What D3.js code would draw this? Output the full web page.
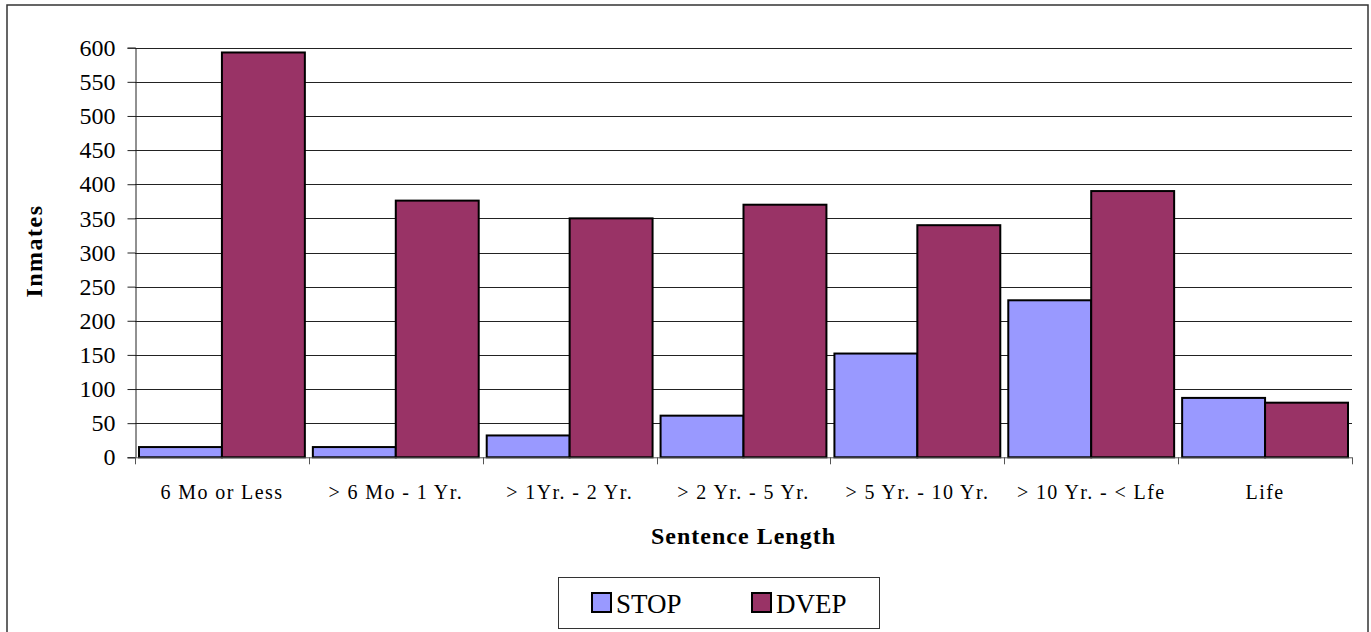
<!DOCTYPE html>
<html>
<head>
<meta charset="utf-8">
<script src="https://cdn.jsdelivr.net/npm/d3@7"></script>
<style>
  html, body { margin: 0; padding: 0; background: #fff; }
  svg { display: block; }
</style>
</head>
<body>
<svg id="chart" width="1371" height="632"></svg>
<script>
// Sentence length categories and inmate counts per programme
const categories = ["6 Mo or Less", "> 6 Mo - 1 Yr.", "> 1Yr. - 2 Yr.", "> 2 Yr. - 5 Yr.", "> 5 Yr. - 10 Yr.", "> 10 Yr. - < Lfe", "Life"];
const seriesNames = ["STOP", "DVEP"];
const stopValues = [15, 15, 32, 61, 152, 230, 87];
const dvepValues = [593, 376, 350, 370, 340, 390, 80];
const yTicks = [0, 50, 100, 150, 200, 250, 300, 350, 400, 450, 500, 550, 600];
const colors = { STOP: "#9999FF", DVEP: "#993366" };

const FONT = "'Liberation Serif', 'Times New Roman', Times, serif";

const rows = categories.map((c, i) => ({ category: c, STOP: stopValues[i], DVEP: dvepValues[i] }));

const svg = d3.select("#chart");

// Outer chart frame
svg.append("rect")
  .attr("x", 7).attr("y", 5)
  .attr("width", 1361).attr("height", 640)
  .attr("fill", "none").attr("stroke", "#333").attr("stroke-width", 1.5);

const plot = { left: 135, right: 1352, top: 47.7, bottom: 457.3 };

const x0 = d3.scaleBand().domain(categories).range([plot.left, plot.right]).padding(0);
const x1 = d3.scaleBand().domain(seriesNames).range([4, x0.bandwidth() - 4]).padding(0);
const y = d3.scaleLinear().domain([0, 600]).range([plot.bottom, plot.top]);

// Horizontal gridlines
svg.append("g")
  .selectAll("line")
  .data(yTicks.filter(t => t > 0))
  .join("line")
  .attr("x1", plot.left).attr("x2", plot.right)
  .attr("y1", d => Math.round(y(d)) + 0.5).attr("y2", d => Math.round(y(d)) + 0.5)
  .attr("stroke", "#222").attr("stroke-width", 1);

// Y axis
const yAxis = svg.append("g")
  .attr("transform", `translate(${plot.left + 0.5},0)`)
  .call(d3.axisLeft(y).tickValues(yTicks).tickSize(8).tickPadding(12).tickFormat(d3.format("d")));
yAxis.attr("font-family", null).attr("font-size", null);
yAxis.select(".domain").attr("stroke", "#222");
yAxis.selectAll(".tick line").attr("stroke", "#222");
yAxis.selectAll(".tick text")
  .style("font-family", FONT)
  .style("font-size", "24px")
  .attr("fill", "#000");

// Bars
const groups = svg.append("g")
  .selectAll("g")
  .data(rows)
  .join("g")
  .attr("transform", d => `translate(${x0(d.category)},0)`);

groups.selectAll("rect")
  .data(d => seriesNames.map(s => ({ key: s, value: d[s] })))
  .join("rect")
  .attr("x", d => x1(d.key))
  .attr("y", d => y(d.value))
  .attr("width", x1.bandwidth())
  .attr("height", d => y(0) - y(d.value))
  .attr("fill", d => colors[d.key])
  .attr("stroke", "#000")
  .attr("stroke-width", 2);

// X axis with category boundary ticks
const xAxisG = svg.append("g");
xAxisG.append("line")
  .attr("x1", plot.left).attr("x2", plot.right)
  .attr("y1", plot.bottom + 0.5).attr("y2", plot.bottom + 0.5)
  .attr("stroke", "#555");
const boundaries = categories.map(c => x0(c)).concat([plot.right]);
xAxisG.selectAll("line.tick")
  .data(boundaries)
  .join("line")
  .attr("class", "tick")
  .attr("x1", d => Math.round(d) + 0.5).attr("x2", d => Math.round(d) + 0.5)
  .attr("y1", plot.bottom).attr("y2", plot.bottom + 7)
  .attr("stroke", "#555");
xAxisG.selectAll("text")
  .data(categories)
  .join("text")
  .attr("x", d => x0(d) + x0.bandwidth() / 2)
  .attr("y", 499)
  .attr("text-anchor", "middle")
  .style("font-family", FONT)
  .style("font-size", "20px")
  .style("letter-spacing", "1.4px")
  .text(d => d);

// Axis titles
svg.append("text")
  .attr("x", (plot.left + plot.right) / 2)
  .attr("y", 544)
  .attr("text-anchor", "middle")
  .style("font-family", FONT)
  .style("font-size", "24px")
  .style("font-weight", "bold")
  .style("letter-spacing", "1px")
  .text("Sentence Length");

svg.append("text")
  .attr("transform", "translate(42,251) rotate(-90)")
  .attr("text-anchor", "middle")
  .style("font-family", FONT)
  .style("font-size", "24px")
  .style("font-weight", "bold")
  .style("letter-spacing", "1.5px")
  .text("Inmates");

// Legend
const legend = svg.append("g");
legend.append("rect")
  .attr("x", 558.5).attr("y", 577.5)
  .attr("width", 321).attr("height", 51)
  .attr("fill", "#fff").attr("stroke", "#333").attr("stroke-width", 1);
const legendX = { STOP: 592, DVEP: 752 };
const items = legend.selectAll("g.item")
  .data(seriesNames)
  .join("g")
  .attr("class", "item")
  .attr("transform", d => `translate(${legendX[d]},593)`);
items.append("rect")
  .attr("width", 19).attr("height", 19)
  .attr("fill", d => colors[d])
  .attr("stroke", "#000").attr("stroke-width", 2);
items.append("text")
  .attr("x", 24).attr("y", 20)
  .style("font-family", FONT)
  .style("font-size", "27px")
  .text(d => d);
</script>
</body>
</html>
